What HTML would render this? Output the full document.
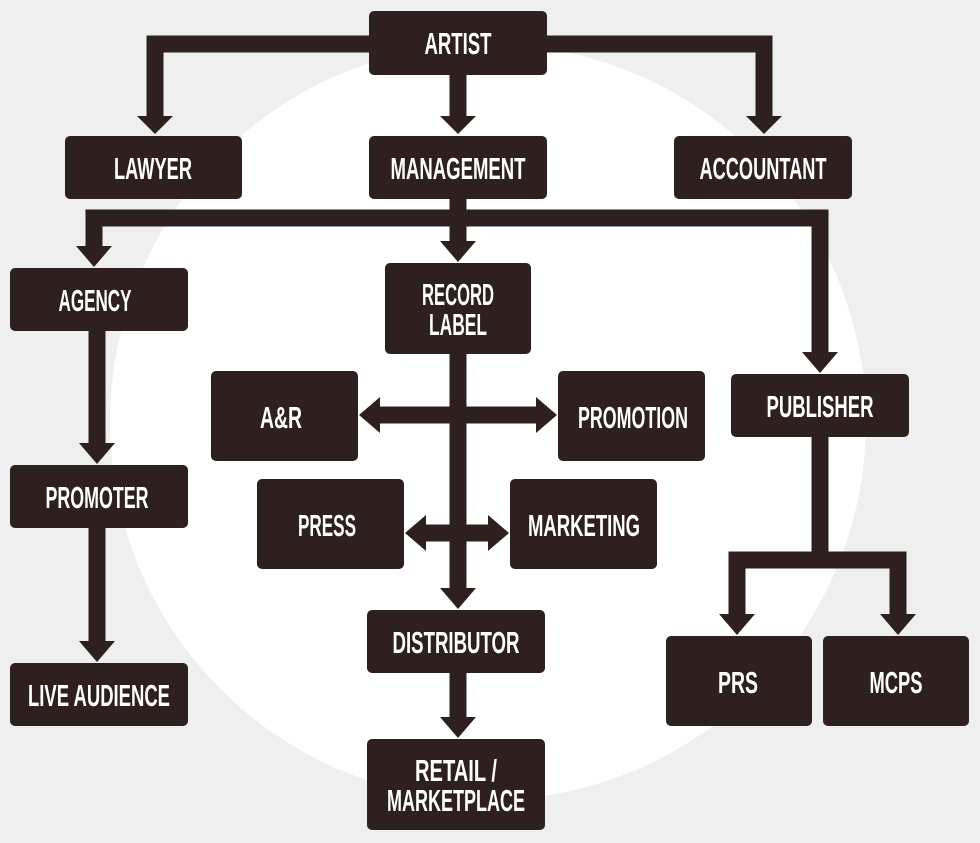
<!DOCTYPE html>
<html><head><meta charset="utf-8"><style>
html,body{margin:0;padding:0;background:#efefef;}
svg{display:block;}
text{font-family:"Liberation Sans",sans-serif;font-weight:bold;font-size:31px;fill:#fff;text-anchor:middle;}
</style></head><body>
<svg width="980" height="843" viewBox="0 0 980 843" xmlns="http://www.w3.org/2000/svg">
<rect width="980" height="843" fill="#efefef"/>
<circle cx="488" cy="422" r="378" fill="#fff"/>
<g fill="none" stroke="#2e201e" stroke-width="17">
<path d="M370 44 H155 V118"/>
<path d="M546 44 H764 V118"/>
<path d="M458 75 V118"/>
<path d="M458 199 V245"/>
<path d="M94 250 V218 H820 V356"/>
<path d="M97 331 V446"/>
<path d="M97 528 V644"/>
<path d="M458 354 V591"/>
<path d="M378 415 H540"/>
<path d="M424 533 H490"/>
<path d="M458 673 V720"/>
<path d="M820 437 V560"/>
<path d="M737 618 V560 H898 V618"/>
</g>
<g fill="#2e201e">
<polygon points="137,116 173,116 155,134"/>
<polygon points="746,116 782,116 764,134"/>
<polygon points="440,116 476,116 458,134"/>
<polygon points="440,241 476,241 458,262"/>
<polygon points="76,246 112,246 94,267"/>
<polygon points="802,352 838,352 820,373"/>
<polygon points="79,443 115,443 97,464"/>
<polygon points="79,641 115,641 97,662"/>
<polygon points="440,588 476,588 458,609"/>
<polygon points="440,717 476,717 458,738"/>
<polygon points="719,614 755,614 737,635"/>
<polygon points="880,614 916,614 898,635"/>
<polygon points="359,415 380,397 380,433"/>
<polygon points="557,415 536,397 536,433"/>
<polygon points="405,533 426,515 426,551"/>
<polygon points="509,533 488,515 488,551"/>
</g>
<g fill="#2e201e">
<rect x="369" y="11" width="178" height="64" rx="5"/>
<rect x="65" y="136" width="177" height="63" rx="5"/>
<rect x="369" y="136" width="178" height="63" rx="5"/>
<rect x="674" y="136" width="178" height="63" rx="5"/>
<rect x="10" y="268" width="178" height="63" rx="5"/>
<rect x="385" y="263" width="146" height="91" rx="5"/>
<rect x="731" y="374" width="178" height="63" rx="5"/>
<rect x="211" y="371" width="147" height="90" rx="5"/>
<rect x="558" y="371" width="147" height="90" rx="5"/>
<rect x="257" y="479" width="147" height="90" rx="5"/>
<rect x="510" y="479" width="147" height="90" rx="5"/>
<rect x="10" y="465" width="178" height="63" rx="5"/>
<rect x="367" y="610" width="178" height="63" rx="5"/>
<rect x="10" y="663" width="178" height="63" rx="5"/>
<rect x="367" y="739" width="178" height="91" rx="5"/>
<rect x="666" y="636" width="146" height="90" rx="5"/>
<rect x="823" y="636" width="146" height="90" rx="5"/>
</g>
<text x="458" y="54" textLength="67" lengthAdjust="spacingAndGlyphs">ARTIST</text>
<text x="153" y="179" textLength="78" lengthAdjust="spacingAndGlyphs">LAWYER</text>
<text x="458" y="179" textLength="135" lengthAdjust="spacingAndGlyphs">MANAGEMENT</text>
<text x="763" y="179" textLength="127" lengthAdjust="spacingAndGlyphs">ACCOUNTANT</text>
<text x="95" y="311" textLength="73" lengthAdjust="spacingAndGlyphs">AGENCY</text>
<text x="458" y="305" textLength="72" lengthAdjust="spacingAndGlyphs">RECORD</text>
<text x="458" y="335" textLength="58" lengthAdjust="spacingAndGlyphs">LABEL</text>
<text x="820" y="417" textLength="107" lengthAdjust="spacingAndGlyphs">PUBLISHER</text>
<text x="281" y="428" textLength="42" lengthAdjust="spacingAndGlyphs">A&amp;R</text>
<text x="633" y="428" textLength="110" lengthAdjust="spacingAndGlyphs">PROMOTION</text>
<text x="327" y="536" textLength="58" lengthAdjust="spacingAndGlyphs">PRESS</text>
<text x="584" y="536" textLength="112" lengthAdjust="spacingAndGlyphs">MARKETING</text>
<text x="97" y="508" textLength="103" lengthAdjust="spacingAndGlyphs">PROMOTER</text>
<text x="456" y="653" textLength="127" lengthAdjust="spacingAndGlyphs">DISTRIBUTOR</text>
<text x="99" y="706" textLength="142" lengthAdjust="spacingAndGlyphs">LIVE AUDIENCE</text>
<text x="456" y="781" textLength="82" lengthAdjust="spacingAndGlyphs">RETAIL /</text>
<text x="456" y="811" textLength="138" lengthAdjust="spacingAndGlyphs">MARKETPLACE</text>
<text x="738" y="693" textLength="40" lengthAdjust="spacingAndGlyphs">PRS</text>
<text x="896" y="693" textLength="53" lengthAdjust="spacingAndGlyphs">MCPS</text>
</svg>
</body></html>
